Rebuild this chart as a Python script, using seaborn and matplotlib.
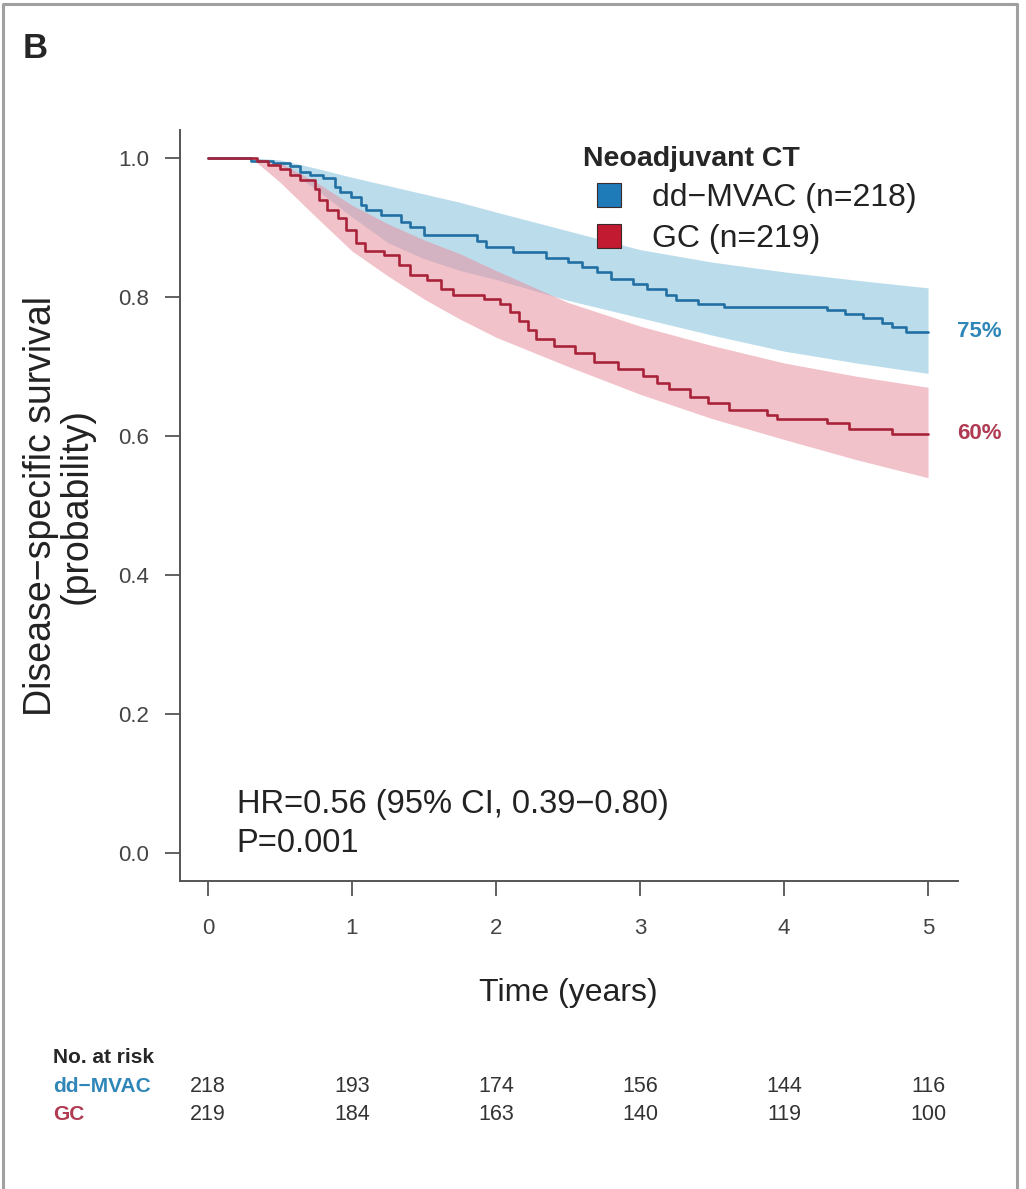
import numpy as np
import pandas as pd
import matplotlib
matplotlib.use("Agg")
import matplotlib.pyplot as plt
import matplotlib.transforms as mtransforms
from matplotlib.lines import Line2D
import seaborn as sns

# Kaplan-Meier steps (time in years, survival after the step)
mvac_time = [0, 0.30, 0.45, 0.57, 0.64, 0.71, 0.80, 0.88, 0.92, 0.99, 1.06, 1.10, 1.20, 1.34,
             1.40, 1.50, 1.87, 1.93, 2.12, 2.35, 2.50, 2.60, 2.70, 2.80, 2.95, 3.05, 3.18,
             3.25, 3.40, 3.58, 4.30, 4.42, 4.55, 4.68, 4.75, 4.85, 5.00]
mvac_surv = [1.0, 0.996, 0.993, 0.988, 0.980, 0.976, 0.971, 0.958, 0.951, 0.944, 0.932, 0.925,
             0.918, 0.908, 0.900, 0.889, 0.880, 0.872, 0.865, 0.856, 0.850, 0.843, 0.836,
             0.826, 0.818, 0.811, 0.803, 0.796, 0.790, 0.786, 0.781, 0.776, 0.770, 0.763,
             0.756, 0.750, 0.750]

gc_time = [0, 0.34, 0.42, 0.50, 0.57, 0.64, 0.74, 0.77, 0.83, 0.90, 0.96, 1.03, 1.09, 1.22,
           1.33, 1.40, 1.52, 1.62, 1.70, 1.92, 2.03, 2.10, 2.16, 2.22, 2.28, 2.40, 2.55,
           2.68, 2.85, 3.02, 3.12, 3.20, 3.35, 3.47, 3.62, 3.88, 3.95, 4.30, 4.45, 4.75, 5.00]
gc_surv = [1.0, 0.996, 0.990, 0.984, 0.976, 0.968, 0.955, 0.940, 0.925, 0.913, 0.896, 0.878,
           0.866, 0.860, 0.846, 0.831, 0.824, 0.812, 0.803, 0.797, 0.790, 0.778, 0.766,
           0.752, 0.740, 0.729, 0.719, 0.706, 0.697, 0.686, 0.676, 0.667, 0.656, 0.647,
           0.637, 0.630, 0.624, 0.619, 0.610, 0.603, 0.603]

# 95% confidence bands
band_time = [0, 0.3, 0.5, 0.75, 1.0, 1.25, 1.5, 1.75, 2.0, 2.5, 3.0, 3.5, 4.0, 4.5, 5.0]
mvac_hi = [1.0, 1.0, 0.997, 0.985, 0.972, 0.960, 0.948, 0.936, 0.922, 0.895, 0.868, 0.850,
           0.836, 0.824, 0.813]
mvac_lo = [1.0, 1.0, 0.990, 0.955, 0.915, 0.878, 0.855, 0.838, 0.825, 0.795, 0.770, 0.745,
           0.722, 0.705, 0.690]
gc_hi = [1.0, 1.0, 0.993, 0.965, 0.932, 0.905, 0.882, 0.862, 0.838, 0.792, 0.758, 0.730,
         0.705, 0.686, 0.670]
gc_lo = [1.0, 1.0, 0.965, 0.915, 0.866, 0.830, 0.797, 0.768, 0.742, 0.700, 0.660, 0.625,
         0.595, 0.566, 0.540]

risk_times = [0, 1, 2, 3, 4, 5]
mvac_risk = [218, 193, 174, 156, 144, 116]
gc_risk = [219, 184, 163, 140, 119, 100]

arms = ["dd\u2212MVAC", "GC"]
legend_labels = ["dd\u2212MVAC (n=218)", "GC (n=219)"]
line_colors = {"dd\u2212MVAC": "#2270a3", "GC": "#a8233a"}
band_colors = ["#8ec6de", "#e8909f"]
square_colors = ["#1f7ab8", "#c21a30"]
text_colors = ["#2f86b8", "#b03a52"]

df = pd.concat([
    pd.DataFrame({"time": mvac_time, "surv": mvac_surv, "arm": arms[0]}),
    pd.DataFrame({"time": gc_time, "surv": gc_surv, "arm": arms[1]}),
])

sns.set_style("ticks")
plt.rcParams["font.family"] = ["Liberation Sans", "DejaVu Sans"]

W, H = 1026, 1189
fig = plt.figure(figsize=(W / 100, H / 100), dpi=100)
ax = fig.add_axes([180 / W, 1 - 881 / H, 778 / W, 751 / H])

ax.fill_between(band_time, mvac_lo, mvac_hi, color=band_colors[0], alpha=0.6, lw=0)
ax.fill_between(band_time, gc_lo, gc_hi, color=band_colors[1], alpha=0.55, lw=0)

sns.lineplot(data=df, x="time", y="surv", hue="arm", palette=line_colors,
             estimator=None, sort=False, drawstyle="steps-post", linewidth=1.9,
             legend=False, ax=ax)

ax.set_xlim(-0.194, 5.208)
ax.set_ylim(-0.040, 1.040)
ax.set_xticks(range(6))
ax.set_yticks([0, 0.2, 0.4, 0.6, 0.8, 1.0])
ax.set_yticklabels(["0.0", "0.2", "0.4", "0.6", "0.8", "1.0"])
sns.despine(ax=ax)
for s in ["left", "bottom"]:
    ax.spines[s].set_linewidth(1.4)
    ax.spines[s].set_color("#555555")
ax.tick_params(axis="both", length=10.5, width=1.3, color="#555555",
               labelsize=16, labelcolor="#444444")
ax.tick_params(axis="y", pad=12)
ax.tick_params(axis="x", pad=16)

ax.set_xlabel("Time (years)", fontsize=23, color="#222222")
ax.xaxis.set_label_coords((568 - 180) / 778, (881 - 978) / 751)
ax.set_ylabel("Disease\u2212specific survival\n(probability)", fontsize=27,
              color="#222222", linespacing=1.0)
ax.yaxis.set_label_coords((95 - 180) / 778, 0.5)

# end-of-curve percentages
ax.text(5.2, mvac_surv[-1], f"{round(mvac_surv[-1] * 100)}%", color=text_colors[0],
        fontsize=16, fontweight="bold", va="center", ha="left", clip_on=False)
ax.text(5.2, gc_surv[-1], f"{round(gc_surv[-1] * 100)}%", color=text_colors[1],
        fontsize=16, fontweight="bold", va="center", ha="left", clip_on=False)

ax.text(0.2, 0.058, "HR=0.56 (95% CI, 0.39\u22120.80)", fontsize=23.5, color="#222222",
        va="baseline")
ax.text(0.2, 0.002, "P=0.001", fontsize=23.5, color="#222222", va="baseline")

handles = [Line2D([], [], marker="s", linestyle="none", markersize=17,
                  markerfacecolor=c, markeredgecolor="#3a2a2a", markeredgewidth=0.8)
           for c in square_colors]
leg = ax.legend(handles, legend_labels, title="Neoadjuvant CT", loc="upper left",
                bbox_to_anchor=(583 / W, 1 - 146 / H), bbox_transform=fig.transFigure,
                frameon=False, fontsize=23, alignment="left",
                title_fontproperties={"weight": "bold", "size": 20.5},
                handlelength=1.6, handletextpad=0.55, labelspacing=0.35,
                borderpad=0, borderaxespad=0)
for t in leg.get_texts():
    t.set_color("#222222")

fig.text(23 / W, 1 - 48 / H, "B", fontsize=25, fontweight="bold", va="center")

# number at risk table
tr = mtransforms.blended_transform_factory(ax.transData, fig.transFigure)
fig.text(53 / W, 1 - 1063 / H, "No. at risk", fontsize=15, fontweight="bold", va="baseline")
fig.text(53 / W, 1 - 1092 / H, arms[0], fontsize=15, fontweight="bold",
         color=text_colors[0], va="baseline")
fig.text(53 / W, 1 - 1120 / H, arms[1], fontsize=15, fontweight="bold",
         color=text_colors[1], va="baseline")
for t, a, b in zip(risk_times, mvac_risk, gc_risk):
    ax.text(t, 1 - 1092 / H, str(a), transform=tr, fontsize=15.5, color="#333333",
            ha="center", va="baseline")
    ax.text(t, 1 - 1120 / H, str(b), transform=tr, fontsize=15.5, color="#333333",
            ha="center", va="baseline")

# outer frame of the panel
fig.add_artist(Line2D([3 / W, 3 / W, 1017 / W, 1017 / W], [-0.01, 1 - 4 / H, 1 - 4 / H, -0.01],
                      transform=fig.transFigure, color="#a0a0a0", lw=2.2))

fig.savefig("out.png", dpi=100)
